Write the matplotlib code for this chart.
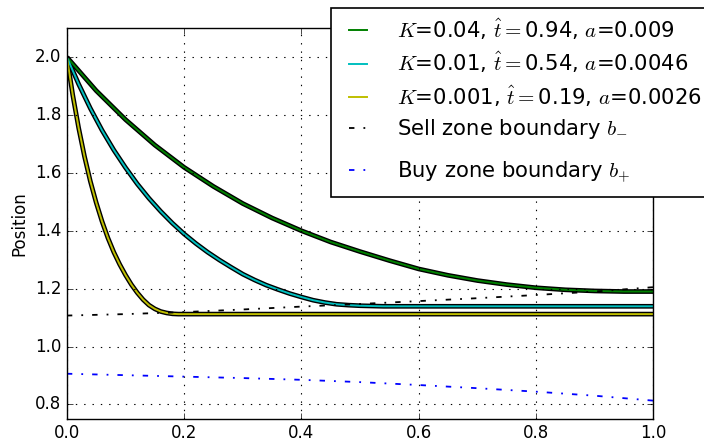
import matplotlib
matplotlib.use("Agg")
import matplotlib.pyplot as plt
from matplotlib.patches import Rectangle
import numpy as np

plt.style.use('classic')

# positions
t_green = [0.0, 0.05, 0.10, 0.15, 0.20, 0.25, 0.30, 0.35, 0.40, 0.45, 0.50,
           0.55, 0.60, 0.65, 0.70, 0.75, 0.80, 0.85, 0.90, 0.95, 1.00]
x_green = [2.000, 1.884, 1.784, 1.696, 1.619, 1.553, 1.494, 1.444, 1.400, 1.361, 1.328,
           1.297, 1.268, 1.246, 1.228, 1.214, 1.203, 1.196, 1.192, 1.190, 1.190]

t_cyan = [0.0, 0.02, 0.04, 0.06, 0.08, 0.10, 0.12, 0.14, 0.16, 0.18, 0.20,
          0.22, 0.24, 0.26, 0.28, 0.30, 0.32, 0.34, 0.36, 0.38, 0.40,
          0.42, 0.44, 0.46, 0.48, 0.50, 0.52, 0.54, 0.60, 0.70, 0.80, 0.90, 1.00]
x_cyan = [2.000, 1.907, 1.823, 1.747, 1.679, 1.618, 1.562, 1.512, 1.467, 1.426, 1.389,
          1.356, 1.326, 1.299, 1.274, 1.250, 1.230, 1.212, 1.197, 1.183, 1.171,
          1.160, 1.152, 1.146, 1.143, 1.141, 1.140, 1.139, 1.139, 1.139, 1.139, 1.139, 1.139]

t_yellow = [0.0, 0.01, 0.02, 0.03, 0.04, 0.05, 0.06, 0.07, 0.08, 0.09, 0.10,
            0.11, 0.12, 0.13, 0.14, 0.15, 0.16, 0.17, 0.18, 0.19, 0.20,
            0.40, 0.60, 0.80, 1.00]
x_yellow = [2.000, 1.869, 1.756, 1.657, 1.571, 1.497, 1.432, 1.375, 1.326, 1.284, 1.247,
            1.214, 1.186, 1.162, 1.143, 1.130, 1.121, 1.116, 1.113, 1.112, 1.112,
            1.112, 1.112, 1.112, 1.112]

t_bound = [0.0, 0.1, 0.2, 0.3, 0.4, 0.5, 0.6, 0.7, 0.8, 0.9, 1.0]
b_minus = [1.107, 1.112, 1.119, 1.128, 1.138, 1.147, 1.157, 1.167, 1.178, 1.190, 1.205]
b_plus = [0.906, 0.901, 0.896, 0.891, 0.885, 0.877, 0.867, 0.856, 0.844, 0.830, 0.813]

labels = [r'$K$=0.04, $\hat{t}=$0.94, $a$=0.009',
          r'$K$=0.01, $\hat{t}=$0.54, $a$=0.0046',
          r'$K$=0.001, $\hat{t}=$0.19, $a$=0.0026']

dashdot = (0, (3.9, 6.5, 1.3, 6.5))

fig = plt.figure(figsize=(7.04, 4.4), dpi=100)
ax = fig.add_axes([0.095, 0.048, 0.833, 0.888])

# numerical solutions (dark band) under the analytic curves
for t, x in [(t_green, x_green), (t_cyan, x_cyan), (t_yellow, x_yellow)]:
    ax.plot(t, x, color='k', lw=3.4, solid_capstyle='butt')

l1, = ax.plot(t_green, x_green, 'g', lw=1.4, label=labels[0])
l2, = ax.plot(t_cyan, x_cyan, 'c', lw=1.4, label=labels[1])
l3, = ax.plot(t_yellow, x_yellow, 'y', lw=1.4, label=labels[2])
l4, = ax.plot(t_bound, b_minus, color='k', ls=dashdot, lw=1.3, label=r'Sell zone boundary $b_{-}$')
l5, = ax.plot(t_bound, b_plus, color='b', ls=dashdot, lw=1.3, label=r'Buy zone boundary $b_{+}$')

ax.set_xlim(0, 1)
ax.set_ylim(0.75, 2.1)
ax.set_xticks(np.arange(0, 1.01, 0.2))
ax.set_yticks(np.arange(0.8, 2.01, 0.2))
ax.grid(True, color='k', linestyle=(0, (1, 5)), linewidth=0.8)
ax.set_ylabel('Position')

# legend frame drawn by hand (it runs past the right edge of the figure)
W, H = 704, 440
frame = Rectangle((331 / W, 1 - 197 / H), 400 / W, 189 / H, transform=fig.transFigure,
                  facecolor='white', edgecolor='k', lw=1.2, zorder=4)
fig.patches.append(frame)

opts = dict(fontsize=15.2, handlelength=1.45, handletextpad=1.15, labelspacing=0.4,
            borderpad=0.55, borderaxespad=0, frameon=False)
leg1 = fig.legend([l1, l2, l3, l4], [l.get_label() for l in (l1, l2, l3, l4)],
                  loc='upper left', bbox_to_anchor=(331 / W, 1 - 5 / H), **opts)
leg2 = fig.legend([l5], [l5.get_label()],
                  loc='center left', bbox_to_anchor=(331 / W, 1 - 172 / H), **opts)
leg1.set_zorder(5)
leg2.set_zorder(5)

fig.savefig('out.png', dpi=100, facecolor='white')
